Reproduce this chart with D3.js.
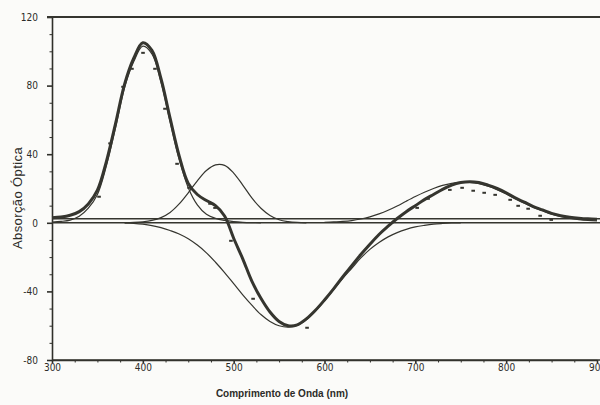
<!DOCTYPE html>
<html>
<head>
<meta charset="utf-8">
<script src="https://cdn.jsdelivr.net/npm/d3@7/dist/d3.min.js"></script>
<style>
  body { margin: 0; background: #fbfbf9; }
  svg { display: block; }
  .axis text { font-family: "Liberation Sans Narrow", "DejaVu Sans Condensed", sans-serif; font-size: 10px; fill: #2c2c28; }
  .axis line, .axis path { stroke: #2f2f2a; }
</style>
</head>
<body>
<div id="chart"></div>
<script>
/* chart size and plot box */
let width = 600;
let height = 405;
let margin = {top: 17, left: 52, right: 3, bottom: 45};

/* sampling grid (nm) shared by the fitted curves */
const wavelengths = [300,310,320,330,340,350,360,370,380,390,400,410,420,430,440,450,460,470,480,490,
                     500,510,520,530,540,550,560,570,580,590,600,610,620,630,640,650,660,670,680,690,
                     700,710,720,730,740,750,760,770,780,790,800,810,820,830,840,850,860,870,880,890,900];

/* total fitted spectrum (thick line) */
const totalFit = [3.0,3.4,4.4,6.5,11,19,36,58,81,96,
                  105,100.5,84,61,39,23,16.5,13,10,4,
                  -9,-21,-34,-44,-52,-57.5,-60,-59.5,-56,-51,
                  -45,-38.5,-31.5,-25,-18.5,-12.5,-6.8,-2,2.5,6.5,
                  10,13.5,16.5,19.5,22,23.5,24,23.5,22,20,
                  17.5,14.5,12,9.5,7.5,5.5,4.2,3.3,2.7,2.3,2.1];

/* component bands (thin lines), null where the band is not drawn */
const band1 = [0.4,0.8,1.6,3.8,8.5,16.5,33.5,55.5,79,94,
               103,98.5,82,59,37,20.5,10.5,5,2.6,1.4,
               0.7,0.3,0.1,0,null,null,null,null,null,null,
               null,null,null,null,null,null,null,null,null,null,
               null,null,null,null,null,null,null,null,null,null,
               null,null,null,null,null,null,null,null,null,null,null];

const band2 = [null,null,null,null,null,null,null,null,0,0.2,
               0.6,1.4,3,6,11,17.5,24.5,30.5,33.8,33.5,
               29,22,14.5,8.5,4.3,1.8,0.7,0.2,0,null,
               null,null,null,null,null,null,null,null,null,null,
               null,null,null,null,null,null,null,null,null,null,
               null,null,null,null,null,null,null,null,null,null,null];

const band3 = [null,null,null,null,null,null,null,null,0,-0.3,
               -0.8,-1.6,-2.8,-4.5,-6.5,-9.3,-13,-17.5,-23,-29,
               -35.5,-42,-48,-53.5,-57.5,-60,-60.8,-59.8,-56.5,-51.5,
               -45.5,-39,-32.5,-26.5,-20.5,-15.5,-11.5,-8.2,-5.7,-3.8,
               -2.4,-1.5,-0.8,-0.4,-0.1,0,null,null,null,null,
               null,null,null,null,null,null,null,null,null,null,null];

const band4 = [null,null,null,null,null,null,null,null,null,null,
               null,null,null,null,null,null,null,null,null,null,
               null,null,null,null,null,null,null,null,null,null,
               0.2,0.5,0.8,1.3,2.2,3.5,5.2,7.3,9.8,12.6,
               15.3,17.8,20,21.8,23,23.6,23.5,22.8,21.3,19.3,
               16.8,14,11.4,9,7,5,3.6,2.6,1.9,1.4,1.1];

/* horizontal reference lines: zero and fitted baseline */
const baseLevels = [0, 2.3];

/* measured points (small dashes) */
const measWl  = [351.8,363.9,378.2,388,400.2,413.4,424.4,437.7,450.9,474,479.5,497,521.4,580.8,
                 702,714,738,751.5,763.7,775.8,787.9,804.4,813.2,824.2,837.4,849.6];
const measAbs = [15.2,46.3,79.3,89.8,99.1,89.8,66.5,34.4,20.4,11.1,8.7,-10.5,-44.3,-61.2,
                 8.7,14,19.2,20.4,18.7,17.5,16.3,13.4,9.9,8.2,4.1,1.7];

/* ticks */
const xTicks = [300,400,500,600,700,800,900];
const yTicks = [-80,-40,0,40,80,120];

const ink = "#35352f";

let svg = d3.select("#chart").append("svg")
            .attr("width", width)
            .attr("height", height);

let x = d3.scaleLinear().domain([300, 900]).range([margin.left, width - margin.right]);
let y = d3.scaleLinear().domain([-80, 120]).range([height - margin.bottom, margin.top]);

// minor ticks
svg.append("g")
    .attr("class", "axis")
    .attr("transform", `translate(${margin.left},0)`)
    .call(d3.axisLeft(y).tickValues(d3.range(-80, 121, 10).filter(v => v % 40 !== 0))
            .tickSize(2.5).tickFormat(""))
    .call(g => g.select(".domain").remove());

svg.append("g")
    .attr("class", "axis")
    .attr("transform", `translate(0,${y(-80)})`)
    .call(d3.axisBottom(x).tickValues(d3.range(300, 901, 25).filter(v => v % 100 !== 0))
            .tickSize(2.5).tickFormat(""))
    .call(g => g.select(".domain").remove());

// major axes
svg.append("g")
    .attr("class", "axis")
    .attr("transform", `translate(${margin.left},0)`)
    .call(d3.axisLeft(y).tickValues(yTicks).tickSize(5).tickSizeOuter(0)
            .tickPadding(9).tickFormat(d => String(d)))
    .call(g => g.selectAll("line, path").attr("stroke-width", 1.6));

svg.append("g")
    .attr("class", "axis")
    .attr("transform", `translate(0,${y(-80)})`)
    .call(d3.axisBottom(x).tickValues(xTicks).tickSize(3).tickSizeOuter(0)
            .tickPadding(1).tickFormat(d => String(d)))
    .call(g => g.selectAll("line, path").attr("stroke-width", 1.6));

// frame top and bottom run to the page edge
svg.append("line")
    .attr("x1", margin.left - 5).attr("x2", width)
    .attr("y1", y(120)).attr("y2", y(120))
    .attr("stroke", ink).attr("stroke-width", 2);

svg.append("line")
    .attr("x1", margin.left).attr("x2", width)
    .attr("y1", y(-80)).attr("y2", y(-80))
    .attr("stroke", ink).attr("stroke-width", 1.6);

// zero and baseline
svg.append("g")
    .selectAll("line")
    .data(baseLevels)
    .join("line")
      .attr("x1", margin.left).attr("x2", width)
      .attr("y1", d => y(d)).attr("y2", d => y(d))
      .attr("stroke", ink).attr("stroke-width", 1.5);

let line = d3.line()
             .defined(d => d[1] !== null)
             .x(d => x(d[0]))
             .y(d => y(d[1]))
             .curve(d3.curveCatmullRom.alpha(0.5));

let plot = svg.append("g").attr("fill", "none").attr("stroke", ink);

[band1, band2, band3, band4].forEach(band => {
  plot.append("path")
      .attr("stroke-width", 1.2)
      .attr("d", line(wavelengths.map((w, i) => [w, band[i]])));
});

plot.append("path")
    .attr("stroke-width", 3)
    .attr("stroke-linejoin", "round")
    .attr("d", line(wavelengths.map((w, i) => [w, totalFit[i]])));

// measured points
svg.append("g")
    .selectAll("rect")
    .data(measWl.map((w, i) => [w, measAbs[i]]))
    .join("rect")
      .attr("x", d => x(d[0]) - 1.8)
      .attr("y", d => y(d[1]) - 1)
      .attr("width", 3.6)
      .attr("height", 2)
      .attr("fill", ink);

// titles
svg.append("text")
    .attr("transform", `translate(21.5, 198) rotate(-90)`)
    .attr("text-anchor", "middle")
    .attr("font-family", "Liberation Sans, Arial, sans-serif")
    .attr("font-size", 13)
    .attr("letter-spacing", 0.4)
    .attr("fill", "#2c2c28")
    .text("Absorção Óptica");

svg.append("text")
    .attr("x", 282)
    .attr("y", 397)
    .attr("text-anchor", "middle")
    .attr("font-family", "Liberation Sans, Arial, sans-serif")
    .attr("font-weight", "bold")
    .attr("font-size", 10)
    .attr("fill", "#2c2c28")
    .text("Comprimento de Onda (nm)");
</script>
</body>
</html>
